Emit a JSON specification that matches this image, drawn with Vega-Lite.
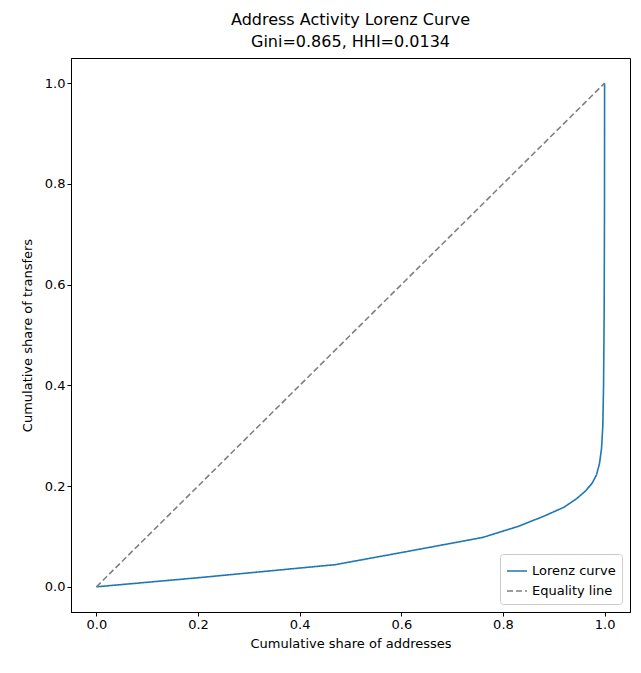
{
  "$schema": "https://vega.github.io/schema/vega-lite/v6.json",
  "width": 559, "height": 554,
  "autosize": {"type": "none"},
  "padding": {"left": 71, "top": 58, "right": 11, "bottom": 61},
  "background": "white",
  "view": {"stroke": "black", "strokeWidth": 1, "fill": "white"},
  "title": {"text": ["Address Activity Lorenz Curve", "Gini=0.865, HHI=0.0134"], "font": "DejaVu Sans", "fontSize": 16, "fontWeight": "normal", "offset": 8, "lineHeight": 22},
  "config": {"font": "DejaVu Sans"},
  "data": {"values": [
    {"s": "Lorenz curve", "x": 0, "y": 0},
    {"s": "Lorenz curve", "x": 0.2, "y": 0.018},
    {"s": "Lorenz curve", "x": 0.47, "y": 0.044},
    {"s": "Lorenz curve", "x": 0.6, "y": 0.068},
    {"s": "Lorenz curve", "x": 0.76, "y": 0.098},
    {"s": "Lorenz curve", "x": 0.83, "y": 0.12},
    {"s": "Lorenz curve", "x": 0.88, "y": 0.14},
    {"s": "Lorenz curve", "x": 0.92, "y": 0.158},
    {"s": "Lorenz curve", "x": 0.945, "y": 0.175},
    {"s": "Lorenz curve", "x": 0.962, "y": 0.19},
    {"s": "Lorenz curve", "x": 0.975, "y": 0.205},
    {"s": "Lorenz curve", "x": 0.984, "y": 0.222},
    {"s": "Lorenz curve", "x": 0.99, "y": 0.245},
    {"s": "Lorenz curve", "x": 0.994, "y": 0.275},
    {"s": "Lorenz curve", "x": 0.9965, "y": 0.32},
    {"s": "Lorenz curve", "x": 0.998, "y": 0.4},
    {"s": "Lorenz curve", "x": 0.9992, "y": 0.55},
    {"s": "Lorenz curve", "x": 0.9998, "y": 0.75},
    {"s": "Lorenz curve", "x": 1, "y": 1},
    {"s": "Equality line", "x": 0, "y": 0},
    {"s": "Equality line", "x": 1, "y": 1}
  ]},
  "mark": {"type": "line", "strokeWidth": 1.6},
  "encoding": {
    "x": {"field": "x", "type": "quantitative", "scale": {"domain": [-0.05, 1.05], "nice": false, "zero": false},
      "axis": {"title": "Cumulative share of addresses", "values": [0, 0.2, 0.4, 0.6, 0.8, 1], "format": ".1f", "grid": false, "domain": true, "domainColor": "black", "tickColor": "black", "labelColor": "black", "titleColor": "black", "labelFontSize": 13, "titleFontSize": 13, "titleFontWeight": "normal", "tickSize": 4, "titlePadding": 6}},
    "y": {"field": "y", "type": "quantitative", "scale": {"domain": [-0.05, 1.05], "nice": false, "zero": false},
      "axis": {"title": "Cumulative share of transfers", "values": [0, 0.2, 0.4, 0.6, 0.8, 1], "format": ".1f", "grid": false, "domain": true, "domainColor": "black", "tickColor": "black", "labelColor": "black", "titleColor": "black", "labelFontSize": 13, "titleFontSize": 13, "titleFontWeight": "normal", "tickSize": 4, "titlePadding": 10}},
    "order": {"field": "x"},
    "color": {"field": "s", "type": "nominal", "scale": {"domain": ["Lorenz curve", "Equality line"], "range": ["#1f77b4", "gray"]},
      "legend": {"title": null, "orient": "bottom-right", "symbolType": "stroke", "symbolStrokeWidth": 1.6, "labelFontSize": 13, "strokeColor": "#cccccc", "fillColor": "white", "padding": 6, "cornerRadius": 3, "symbolSize": 400, "offset": 8}},
    "strokeDash": {"field": "s", "type": "nominal", "scale": {"domain": ["Lorenz curve", "Equality line"], "range": [[1, 0], [6, 3]]}, "legend": null}
  }
}
